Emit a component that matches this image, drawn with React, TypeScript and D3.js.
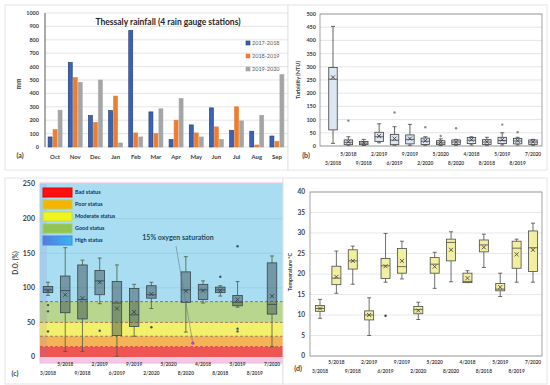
import React, { useEffect, useRef } from 'react';
import * as d3 from 'd3';

// (a) rainfall, mm per month
const months = ['Oct', 'Nov', 'Dec', 'Jan', 'Feb', 'Mar', 'Apr', 'May', 'Jun', 'Jul', 'Aug', 'Sep'];
const seasons = ['2017-2018', '2018-2019', '2019-2020'];
const rain2017_2018 = [75, 630, 235, 272, 870, 262, 55, 165, 292, 125, 118, 82];
const rain2018_2019 = [130, 518, 183, 380, 105, 100, 200, 105, 150, 300, 15, 42];
const rain2019_2020 = [275, 483, 500, 30, 75, 285, 362, 75, 57, 195, 237, 540];

// sampling campaigns shared by (b), (c), (d)
const sampleDates = ['3/2018', '5/2018', '9/2018', '2/2019', '6/2019', '9/2019', '2/2020',
    '5/2020', '8/2020', '4/2018', '8/2018', '5/2019', '8/2019', '7/2020'];

// box stats: [min, q1, median, q3, max, mean]
const turbidityStats: (number[] | null)[] = [
    [10, 61, 253, 297, 453, 260], [3, 5, 14, 23, 35, 16], [2, 5, 11, 17, 25, 12],
    [12, 17, 35, 52, 84, 38], [3, 5, 22, 44, 73, 28], [3, 8, 25, 42, 82, 28],
    [3, 6, 18, 30, 35, 20], [2, 5, 12, 20, 27, 14], [3, 6, 15, 23, 25, 14],
    [4, 9, 22, 32, 35, 24], [3, 6, 15, 24, 33, 16], [4, 9, 21, 33, 50, 24],
    [4, 8, 19, 29, 33, 20], [3, 6, 15, 23, 25, 16],
];
const turbidityOutliers: [string, number][] = [
    ['5/2018', 96], ['6/2019', 127], ['2/2020', 71], ['5/2020', 38],
    ['8/2020', 67], ['5/2019', 81], ['8/2019', 52],
];

const oxygenStats: (number[] | null)[] = [
    [89, 93, 97, 102, 108, 96], [8, 64, 96, 117, 158, 90], [8, 55, 83, 133, 140, 85],
    [77, 90, 110, 125, 143, 108], [1, 31, 78, 109, 133, 70], [30, 44, 61, 99, 105, 65],
    [70, 85, 90, 103, 108, 91], null, [36, 79, 97, 123, 145, 95],
    [78, 83, 97, 105, 110, 96], [88, 93, 97, 101, 103, 96], [72, 74, 79, 89, 109, 83],
    null, [15, 62, 76, 136, 146, 88],
];
const oxygenOutliers: [string, number][] = [
    ['3/2018', 75], ['3/2018', 66], ['3/2018', 37], ['2/2019', 38], ['2/2020', 43],
    ['8/2018', 116], ['5/2019', 160], ['5/2019', 41], ['5/2019', 37],
];
const statusNames = ['Bad status', 'Poor status', 'Moderate status', 'Good status', 'High status'];
const statusLimits = [0, 15, 30, 50, 80, 250];
const saturationLabel = '15% oxygen saturation';
const saturationPoint: [string, number] = ['8/2020', 20];

const temperatureStats: (number[] | null)[] = [
    [9.2, 10.9, 11.6, 12.3, 13.8, 11.6], [15.3, 17.4, 19, 21.9, 25.6, 19.3],
    [17.5, 21.2, 23.2, 25.9, 26.8, 23.2], [5, 8.8, 10, 11, 14.2, 10],
    [18, 18.9, 22, 23.8, 29.9, 21.9], [18.8, 20.2, 21.8, 26.2, 28, 23.2],
    [8.9, 10.3, 11.3, 12.1, 13.1, 11.1], [16.5, 20.2, 22.4, 24, 25.3, 21.8],
    [18.1, 23.2, 27.7, 28.5, 30.3, 25.9], [17.9, 17.9, 18.2, 20.2, 20.8, 19],
    [21.6, 25.4, 27.1, 28.3, 29.7, 26.5], [14.5, 15.9, 16.3, 17.7, 20.2, 16.8],
    [18, 21.4, 26.3, 28, 28.5, 24.8], [18, 20.6, 26.4, 30.5, 32.4, 25.9],
];
const temperatureOutliers: [string, number][] = [['6/2019', 9.8]];

const FONT = 'Lato, "Open Sans", sans-serif';
const TXT = '#404040';

type Sel = d3.Selection<any, unknown, null, undefined>;

interface BoxStyle {
    width: number;
    fill: string;
    stroke: string;
    whisker: string;
    dot: string;
}

const drawBoxes = (g: Sel, stats: (number[] | null)[], outliers: [string, number][],
    x: d3.ScalePoint<string>, y: d3.ScaleLinear<number, number>, st: BoxStyle) => {
    const w = st.width;
    stats.forEach((s, i) => {
        if (!s) return;
        const cx = x(sampleDates[i])!;
        const [mn, q1, md, q3, mx, mean] = s;
        g.append('line').attr('x1', cx).attr('x2', cx).attr('y1', y(mx)).attr('y2', y(q3))
            .attr('stroke', st.whisker).attr('stroke-width', 0.8);
        g.append('line').attr('x1', cx).attr('x2', cx).attr('y1', y(q1)).attr('y2', y(mn))
            .attr('stroke', st.whisker).attr('stroke-width', 0.8);
        [mn, mx].forEach(v => g.append('line').attr('x1', cx - 2).attr('x2', cx + 2)
            .attr('y1', y(v)).attr('y2', y(v)).attr('stroke', st.whisker).attr('stroke-width', 0.8));
        g.append('rect').attr('x', cx - w / 2).attr('y', y(q3)).attr('width', w)
            .attr('height', Math.max(1, y(q1) - y(q3)))
            .attr('fill', st.fill).attr('stroke', st.stroke).attr('stroke-width', 0.8);
        g.append('line').attr('x1', cx - w / 2).attr('x2', cx + w / 2).attr('y1', y(md)).attr('y2', y(md))
            .attr('stroke', st.stroke).attr('stroke-width', 0.8);
        const my = y(mean);
        g.append('path').attr('d', `M${cx - 2},${my - 2}L${cx + 2},${my + 2}M${cx - 2},${my + 2}L${cx + 2},${my - 2}`)
            .attr('stroke', st.stroke).attr('stroke-width', 0.9);
    });
    g.selectAll(null).data(outliers).join('circle')
        .attr('cx', d => x(d[0])!).attr('cy', d => y(d[1])).attr('r', 1.2).attr('fill', st.dot);
};

const dateLabels = (g: Sel, x: d3.ScalePoint<string>, yTop: number, yBot: number, size: number) => {
    g.selectAll(null).data(sampleDates).join('text')
        .attr('x', d => x(d)!).attr('y', (_d, i) => i % 2 === 0 ? yBot : yTop)
        .attr('text-anchor', 'middle').attr('font-size', size).attr('font-weight', 700)
        .attr('font-family', FONT).attr('fill', TXT).text(d => d);
};

const yTicks = (g: Sel, y: d3.ScaleLinear<number, number>, values: number[], xr: number, size: number) => {
    g.selectAll(null).data(values).join('text')
        .attr('x', xr).attr('y', d => y(d)).attr('dy', '0.35em').attr('text-anchor', 'end')
        .attr('font-size', size).attr('font-weight', 700).attr('font-family', FONT)
        .attr('fill', TXT).text(d => d);
};

const vLabel = (g: Sel, text: string, x: number, y: number, size: number) => {
    g.append('text').attr('transform', `translate(${x},${y}) rotate(-90)`)
        .attr('text-anchor', 'middle').attr('font-size', size).attr('font-weight', 700)
        .attr('font-family', FONT).attr('fill', TXT).text(text);
};

const frame = (g: Sel, x: number, y: number, w: number, h: number) => {
    g.append('rect').attr('x', x).attr('y', y).attr('width', w).attr('height', h)
        .attr('fill', '#fff').attr('stroke', '#e4e4e4').attr('stroke-width', 1);
};

const App: React.FC = () => {
    const chartRef = useRef<SVGSVGElement | null>(null);

    useEffect(() => {
        if (chartRef.current) {
            const svg = d3.select(chartRef.current);
            svg.selectAll('*').remove();
            drawRainfall(svg as any);
            drawTurbidity(svg as any);
            drawOxygen(svg as any);
            drawTemperature(svg as any);
        }
    }, []);

    const drawRainfall = (svg: Sel) => {
        const g = svg.append('g');
        frame(g, 5, 5, 283, 165);
        g.append('clipPath').attr('id', 'clipA').append('rect')
            .attr('x', 0).attr('y', 0).attr('width', 288).attr('height', 175);
        const c = g.append('g').attr('clip-path', 'url(#clipA)');

        const x = d3.scaleBand().domain(months).range([45, 287]);
        const sub = d3.scaleBand().domain(seasons).range([-7, 7]).paddingInner(0.2);
        const y = d3.scaleLinear().domain([0, 1000]).range([147, 13]);
        const ticks = y.ticks(10);

        c.selectAll(null).data(ticks).join('line')
            .attr('x1', 45).attr('x2', 292).attr('y1', d => y(d)).attr('y2', d => y(d))
            .attr('stroke', '#d9d9d9').attr('stroke-width', 0.7);
        g.append('line').attr('x1', 45).attr('x2', 45).attr('y1', y(1000)).attr('y2', y(0))
            .attr('stroke', '#595959').attr('stroke-width', 1);
        yTicks(g, y, ticks, 39, 5.5);
        vLabel(g, 'mm', 21, 84, 6.5);

        const series = [rain2017_2018, rain2018_2019, rain2019_2020];
        const fills = ['#3a63b8', '#ed7d31', '#a5a5a5'];
        const strokes = ['#1f3864', '#ed7d31', '#a5a5a5'];
        series.forEach((vals, si) => {
            c.selectAll(null).data(vals).join('rect')
                .attr('x', (_d, i) => x(months[i])! + x.bandwidth() / 2 + sub(seasons[si])!)
                .attr('y', d => y(d)).attr('width', sub.bandwidth()).attr('height', d => y(0) - y(d))
                .attr('fill', fills[si]).attr('stroke', strokes[si]).attr('stroke-width', 0.6);
        });

        g.selectAll(null).data(months).join('text')
            .attr('x', d => x(d)! + x.bandwidth() / 2).attr('y', 159).attr('text-anchor', 'middle')
            .attr('font-size', 6).attr('font-weight', 700).attr('font-family', FONT).attr('fill', TXT)
            .text(d => d);
        g.append('text').attr('x', 20).attr('y', 158).attr('text-anchor', 'middle').attr('font-size', 7)
            .attr('font-weight', 700).attr('font-family', FONT).attr('fill', TXT).text('(a)');

        g.append('text').attr('x', 168).attr('y', 25).attr('text-anchor', 'middle').attr('font-size', 8.5)
            .attr('font-weight', 700).attr('font-family', FONT).attr('fill', '#262626')
            .text('Thessaly rainfall (4 rain gauge stations)');

        seasons.forEach((s, i) => {
            const ly = 43 + i * 13;
            c.append('rect').attr('x', 246).attr('y', ly - 2).attr('width', 4).attr('height', 4)
                .attr('fill', fills[i]).attr('stroke', strokes[i]).attr('stroke-width', 0.6);
            c.append('text').attr('x', 252).attr('y', ly).attr('dy', '0.35em').attr('font-size', 5.5)
                .attr('font-family', FONT).attr('fill', '#595959').text(s);
        });
    };

    const drawTurbidity = (svg: Sel) => {
        const g = svg.append('g');
        frame(g, 288, 5, 259, 165);
        const y = d3.scaleLinear().domain([0, 500]).range([146, 14]);
        const x = d3.scalePoint<string>().domain(sampleDates).range([333, 533]);
        const ticks = d3.range(0, 501, 50);
        g.selectAll(null).data(ticks).join('line')
            .attr('x1', 320).attr('x2', 542).attr('y1', d => y(d)).attr('y2', d => y(d))
            .attr('stroke', '#d9d9d9').attr('stroke-width', 0.7);
        g.append('rect').attr('x', 320).attr('y', 14).attr('width', 222).attr('height', 132)
            .attr('fill', 'none').attr('stroke', '#8c8c8c').attr('stroke-width', 0.8);
        yTicks(g, y, ticks, 316, 5.5);
        vLabel(g, 'Turbidity (NTU)', 300, 80, 5.5);
        drawBoxes(g, turbidityStats, turbidityOutliers, x, y, {
            width: 8.5, fill: '#dde6f3', stroke: '#3f3f3f', whisker: '#3f3f3f', dot: '#8a8a8a',
        });
        dateLabels(g, x, 156, 165, 4.8);
        g.append('text').attr('x', 306).attr('y', 158).attr('text-anchor', 'middle').attr('font-size', 7)
            .attr('font-weight', 700).attr('font-family', FONT).attr('fill', TXT).text('(b)');
    };

    const drawOxygen = (svg: Sel) => {
        const g = svg.append('g');
        frame(g, 5, 178, 278, 206);
        const y = d3.scaleLinear().domain([0, 250]).range([357, 184]);
        const x = d3.scalePoint<string>().domain(sampleDates).range([48, 272]);
        const x0 = 40;
        const x1 = 283;

        g.append('rect').attr('x', x0).attr('y', 183).attr('width', x1 - x0).attr('height', 180)
            .attr('fill', '#f4c8e4').attr('stroke', '#f0b8dc').attr('stroke-width', 1);
        const bandFill = ['#ef5552', '#f4b455', '#f3f16c', '#b9d68e', '#a9def2'];
        statusNames.forEach((_n, i) => {
            g.append('rect').attr('x', x0).attr('y', y(statusLimits[i + 1]))
                .attr('width', x1 - x0).attr('height', y(statusLimits[i]) - y(statusLimits[i + 1]))
                .attr('fill', bandFill[i]);
        });
        g.append('rect').attr('x', x0).attr('y', y(250)).attr('width', 7).attr('height', y(0) - y(250))
            .attr('fill', '#8a70c8').attr('opacity', 0.15);
        [100, 150, 200].forEach(t => g.append('line').attr('x1', x0).attr('x2', x1)
            .attr('y1', y(t)).attr('y2', y(t)).attr('stroke', '#8ec7dc').attr('stroke-width', 0.6));
        const dashCol = ['#d42a2a', '#8a5a2a', '#9a5a22', '#3a5a7a'];
        statusLimits.slice(1, 5).forEach((t, i) => g.append('line').attr('x1', x0).attr('x2', x1)
            .attr('y1', y(t)).attr('y2', y(t)).attr('stroke', dashCol[i]).attr('stroke-width', 0.7)
            .attr('stroke-dasharray', '3,2'));

        yTicks(g, y, d3.range(0, 251, 50), 35, 7);
        vLabel(g, 'D.O. (%)', 18, 263, 6.5);

        drawBoxes(g, oxygenStats, oxygenOutliers, x, y, {
            width: 9.5, fill: 'rgba(48,66,74,0.45)', stroke: '#34444a', whisker: '#4d5a40', dot: '#3a5566',
        });

        // annotation
        const px = x(saturationPoint[0])! + 7;
        const py = y(saturationPoint[1]);
        g.append('line').attr('x1', 176).attr('y1', 246).attr('x2', px).attr('y2', py)
            .attr('stroke', '#6b7784').attr('stroke-width', 0.6);
        g.append('circle').attr('cx', px).attr('cy', py).attr('r', 1.6).attr('fill', '#c03cc0');
        g.append('text').attr('x', 178).attr('y', 240).attr('text-anchor', 'middle').attr('font-size', 7)
            .attr('font-weight', 700).attr('font-family', FONT).attr('fill', '#1e4a5a').text(saturationLabel);

        // legend, Bad status on top
        const swFill = ['#ff1010', '#f6b400', '#f0f41c', '#92c453', 'url(#gradHigh)'];
        const swStroke = ['#e00000', '#bccc58', '#c4da3c', '#a2ca64', '#3c8ae0'];
        const grad = g.append('linearGradient').attr('id', 'gradHigh');
        grad.append('stop').attr('offset', '0%').attr('stop-color', '#5a78e0');
        grad.append('stop').attr('offset', '100%').attr('stop-color', '#38b4f0');
        statusNames.forEach((n, i) => {
            const ly = 188 + i * 12;
            g.append('rect').attr('x', 43).attr('y', ly).attr('width', 29).attr('height', 9)
                .attr('fill', swFill[i]).attr('stroke', swStroke[i]).attr('stroke-width', 1);
            g.append('text').attr('x', 75).attr('y', ly + 4.5).attr('dy', '0.35em').attr('font-size', 5.5)
                .attr('font-weight', 700).attr('font-family', FONT).attr('fill', '#1c2c5c').text(n);
        });

        dateLabels(g, x, 366, 375, 4.8);
        g.append('text').attr('x', 15).attr('y', 376).attr('text-anchor', 'middle').attr('font-size', 7)
            .attr('font-weight', 700).attr('font-family', FONT).attr('fill', TXT).text('(c)');
    };

    const drawTemperature = (svg: Sel) => {
        const g = svg.append('g');
        frame(g, 283, 178, 264, 206);
        const y = d3.scaleLinear().domain([0, 40]).range([356, 192]);
        const x = d3.scalePoint<string>().domain(sampleDates).range([320, 533]);
        const ticks = d3.range(0, 41, 5);
        g.selectAll(null).data(ticks).join('line')
            .attr('x1', 310).attr('x2', 542).attr('y1', d => y(d)).attr('y2', d => y(d))
            .attr('stroke', '#dcdcdc').attr('stroke-width', 0.7);
        g.append('rect').attr('x', 310).attr('y', 192).attr('width', 232).attr('height', 164)
            .attr('fill', 'none').attr('stroke', '#8c8c8c').attr('stroke-width', 0.8);
        yTicks(g, y, ticks, 305, 6.5);
        vLabel(g, 'Temperature °C', 292, 272, 5.5);
        drawBoxes(g, temperatureStats, temperatureOutliers, x, y, {
            width: 9, fill: '#f2efa0', stroke: '#4a4a4a', whisker: '#4a4a4a', dot: '#3a3a3a',
        });
        dateLabels(g, x, 364, 373, 4.8);
        g.append('text').attr('x', 298).attr('y', 371).attr('text-anchor', 'middle').attr('font-size', 7)
            .attr('font-weight', 700).attr('font-family', FONT).attr('fill', TXT).text('(d)');
    };

    return (
        <div style={{ position: 'absolute', left: 0, top: 0 }}>
            <svg ref={chartRef} width={550} height={385} style={{ display: 'block', background: '#fff' }}></svg>
        </div>
    );
};

export default App;
